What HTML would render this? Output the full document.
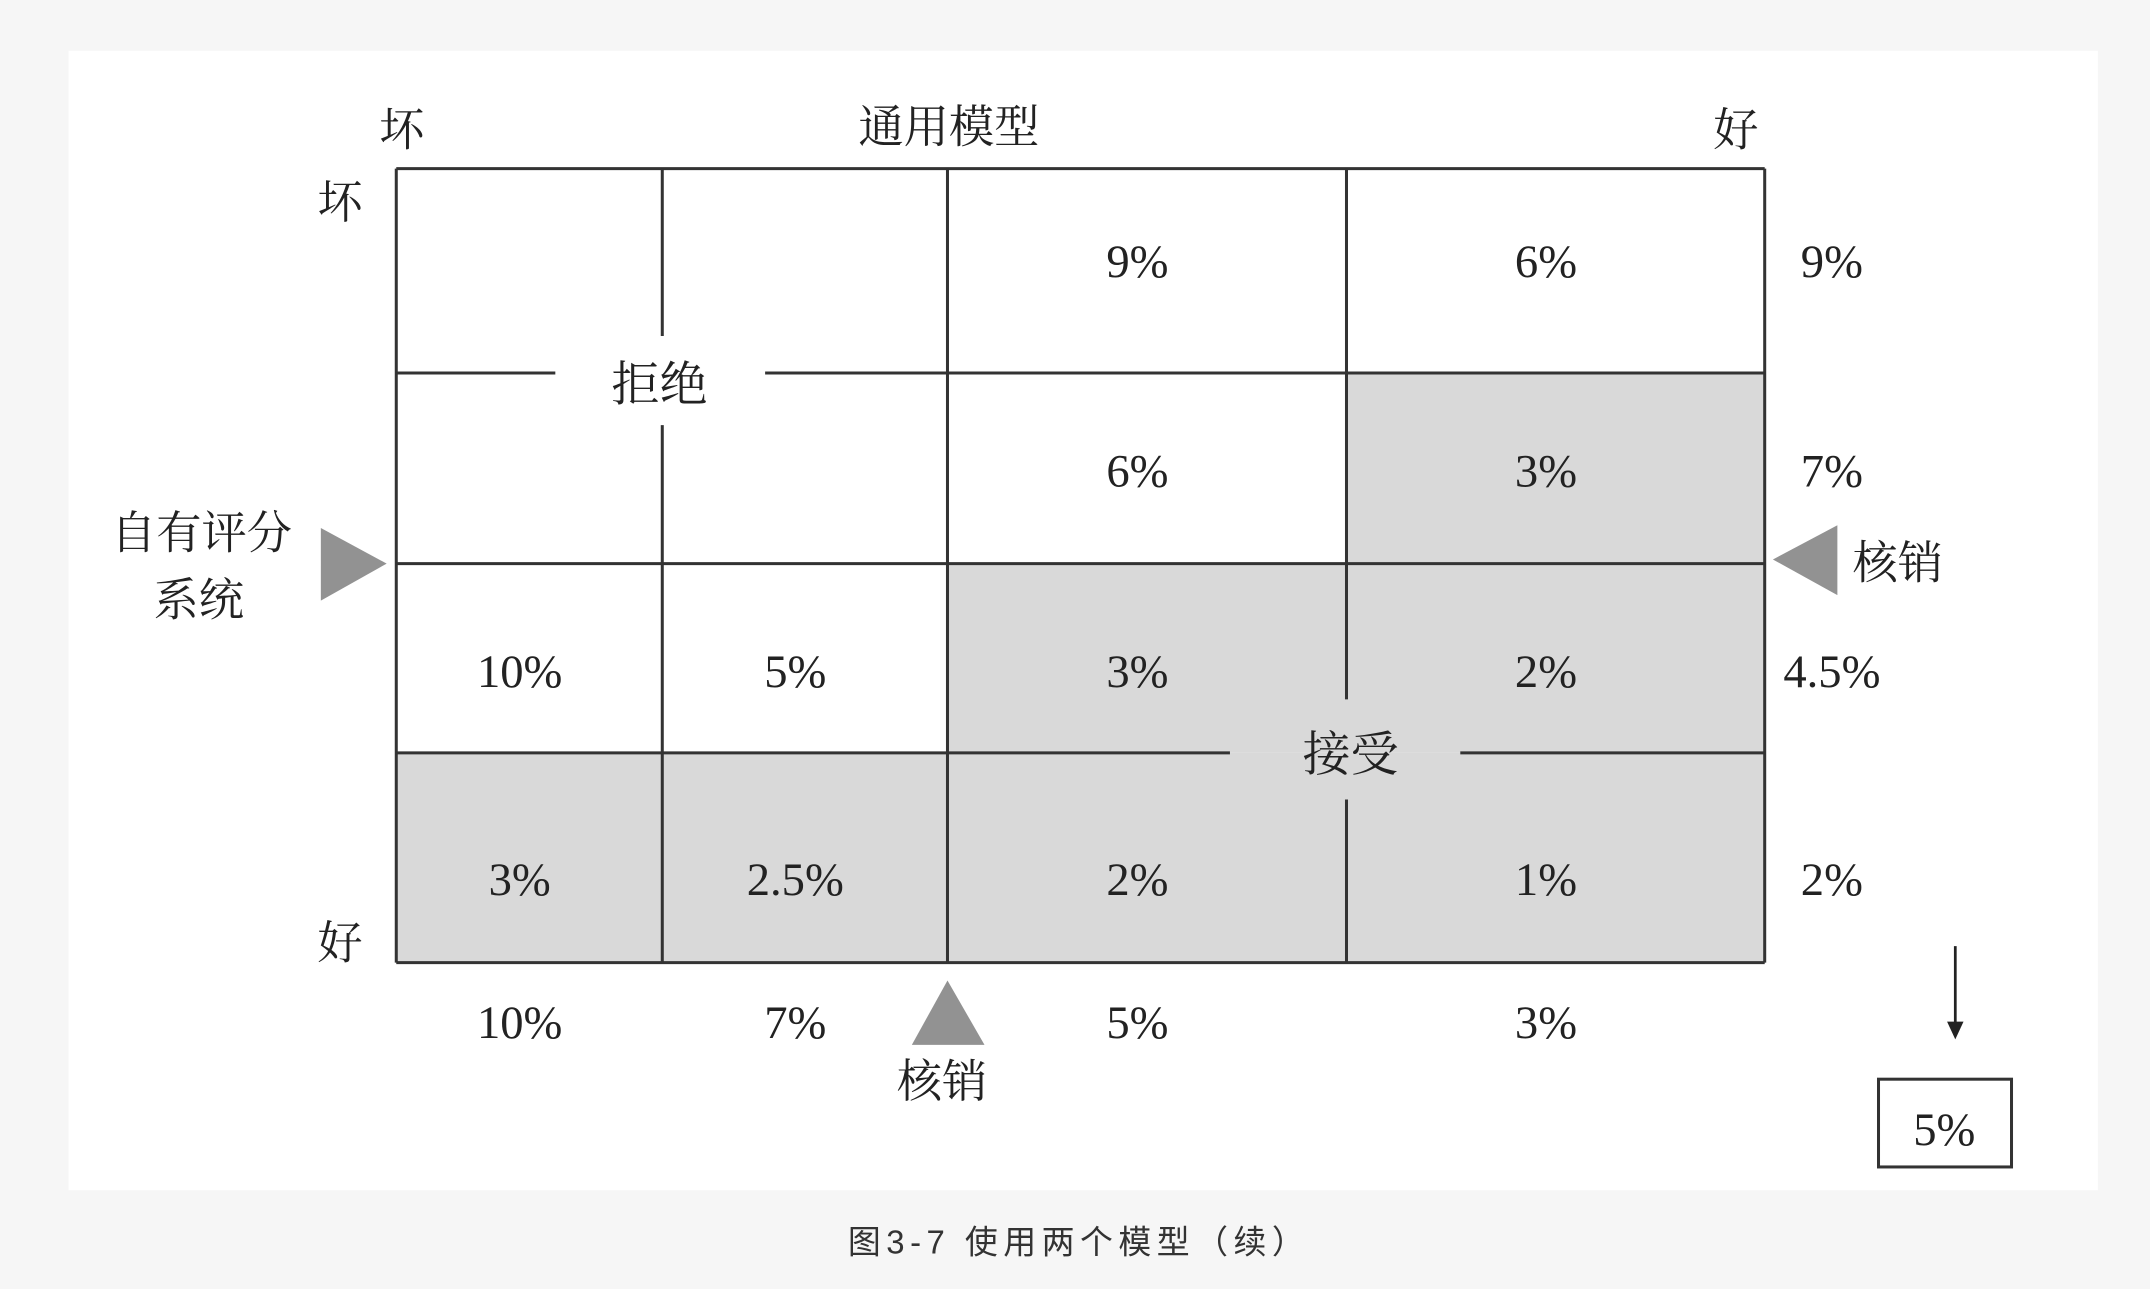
<!DOCTYPE html>
<html><head><meta charset="utf-8"><style>
html,body{margin:0;padding:0;background:#f6f6f6;}
svg{display:block;}
text{font-family:"Liberation Serif","Noto Serif CJK SC",serif;fill:#222;}
.cap{font-family:"Liberation Sans","Noto Sans CJK SC",sans-serif;fill:#333;}
</style></head><body>
<svg id="chart" width="2150" height="1289" viewBox="0 0 1568 940" preserveAspectRatio="none" xmlns="http://www.w3.org/2000/svg">
<rect x="0" y="0" width="1568" height="940" fill="#f6f6f6"/>
<rect x="50" y="37" width="1480" height="831" fill="#fff"/>
<g id="cells"></g>
<g id="grid" stroke="#333" stroke-width="2.2" fill="none"></g>
<g id="labels"></g>
<text x="293" y="106" font-size="33" text-anchor="middle">坏</text>
<text x="692" y="104" font-size="33" text-anchor="middle">通用模型</text>
<text x="1266" y="106" font-size="33" text-anchor="middle">好</text>
<text x="248" y="159" font-size="33" text-anchor="middle">坏</text>
<text x="248" y="699" font-size="33" text-anchor="middle">好</text>
<text x="147" y="400" font-size="33" text-anchor="middle">自有评分</text>
<text x="145" y="449" font-size="33" text-anchor="middle">系统</text>
<polygon points="234,385 282,411 234,438" fill="#929292"/>
<polygon points="1340,383 1293,408 1340,434" fill="#929292"/>
<text x="1384" y="422" font-size="33" text-anchor="middle">核销</text>
<polygon points="691,715 665,762 718,762" fill="#929292"/>
<text x="687" y="800" font-size="33" text-anchor="middle">核销</text>
<line x1="1426" y1="690" x2="1426" y2="748" stroke="#222" stroke-width="2"/>
<polygon points="1420,745 1432,745 1426,758" fill="#222"/>
<rect x="1370" y="787" width="97" height="64" fill="#fff" stroke="#333" stroke-width="2.2"/>
<text id="total" x="1418" y="835" font-size="34" text-anchor="middle"></text>
<text class="cap" x="787" y="914" font-size="24" letter-spacing="4" text-anchor="middle">图3-7 使用两个模型（续）</text>
</svg>
<script>
const cellValues = [
  ["", "", "9%", "6%"],
  ["", "", "6%", "3%"],
  ["10%", "5%", "3%", "2%"],
  ["3%", "2.5%", "2%", "1%"]
];
const shaded = [
  [0,0,0,0],
  [0,0,0,1],
  [0,0,1,1],
  [1,1,1,1]
];
const rowTotals = ["9%", "7%", "4.5%", "2%"];
const colTotals = ["10%", "7%", "5%", "3%"];
const totalValue = "5%";

const xEdges = [289, 483, 691, 982, 1287];
const yEdges = [123, 272, 411, 549, 702];
const rowLabelFrac = [0.45, 0.51, 0.565, 0.6];
const NS = "http://www.w3.org/2000/svg";
function colX(i){return (xEdges[i]+xEdges[i+1])/2 - 7;}
function rowY(j){return yEdges[j] + (yEdges[j+1]-yEdges[j])*rowLabelFrac[j];}
function mk(tag, attrs, parent){const e=document.createElementNS(NS,tag);for(const k in attrs)e.setAttribute(k,attrs[k]);parent.appendChild(e);return e;}
const cells=document.getElementById('cells'), grid=document.getElementById('grid'), labels=document.getElementById('labels');
const numAttrs = {'font-size':34,'text-anchor':'middle'};
for(let r=0;r<4;r++)for(let c=0;c<4;c++){
  const rc=mk('rect',{x:xEdges[c],y:yEdges[r],width:xEdges[c+1]-xEdges[c],height:yEdges[r+1]-yEdges[r],fill:shaded[r][c]?'#d9d9d9':'#fff'},cells);
  
  
  if(cellValues[r][c]){
    const t=mk('text',Object.assign({x:colX(c),y:rowY(r)+12},numAttrs),labels);
    t.textContent=cellValues[r][c];
    
    
  }
}
rowTotals.forEach((v,r)=>{
  const t=mk('text',Object.assign({x:1336,y:rowY(r)+12},numAttrs),labels);
  t.textContent=v;
  
  
});
colTotals.forEach((v,c)=>{
  const t=mk('text',Object.assign({x:colX(c),y:757},numAttrs),labels);
  t.textContent=v;
  
  
});
document.getElementById('total').textContent=totalValue;
const segs=[
  [289,123,1287,123],[289,702,1287,702],[289,123,289,702],[1287,123,1287,702],
  [289,272,405,272],[558,272,1287,272],
  [289,411,1287,411],
  [289,549,897,549],[1065,549,1287,549],
  [483,123,483,245],[483,310,483,702],
  [691,123,691,702],
  [982,123,982,510],[982,583,982,702]
];
segs.forEach((s,i)=>{
  const l=mk('line',{x1:s[0],y1:s[1],x2:s[2],y2:s[3]},grid);
  
  
});
const rej=mk('text',{x:481,y:292,'font-size':35,'text-anchor':'middle'},labels);
rej.textContent='拒绝';


const acc=mk('text',{x:985,y:562,'font-size':35,'text-anchor':'middle'},labels);
acc.textContent='接受';


</script>
</body></html>
